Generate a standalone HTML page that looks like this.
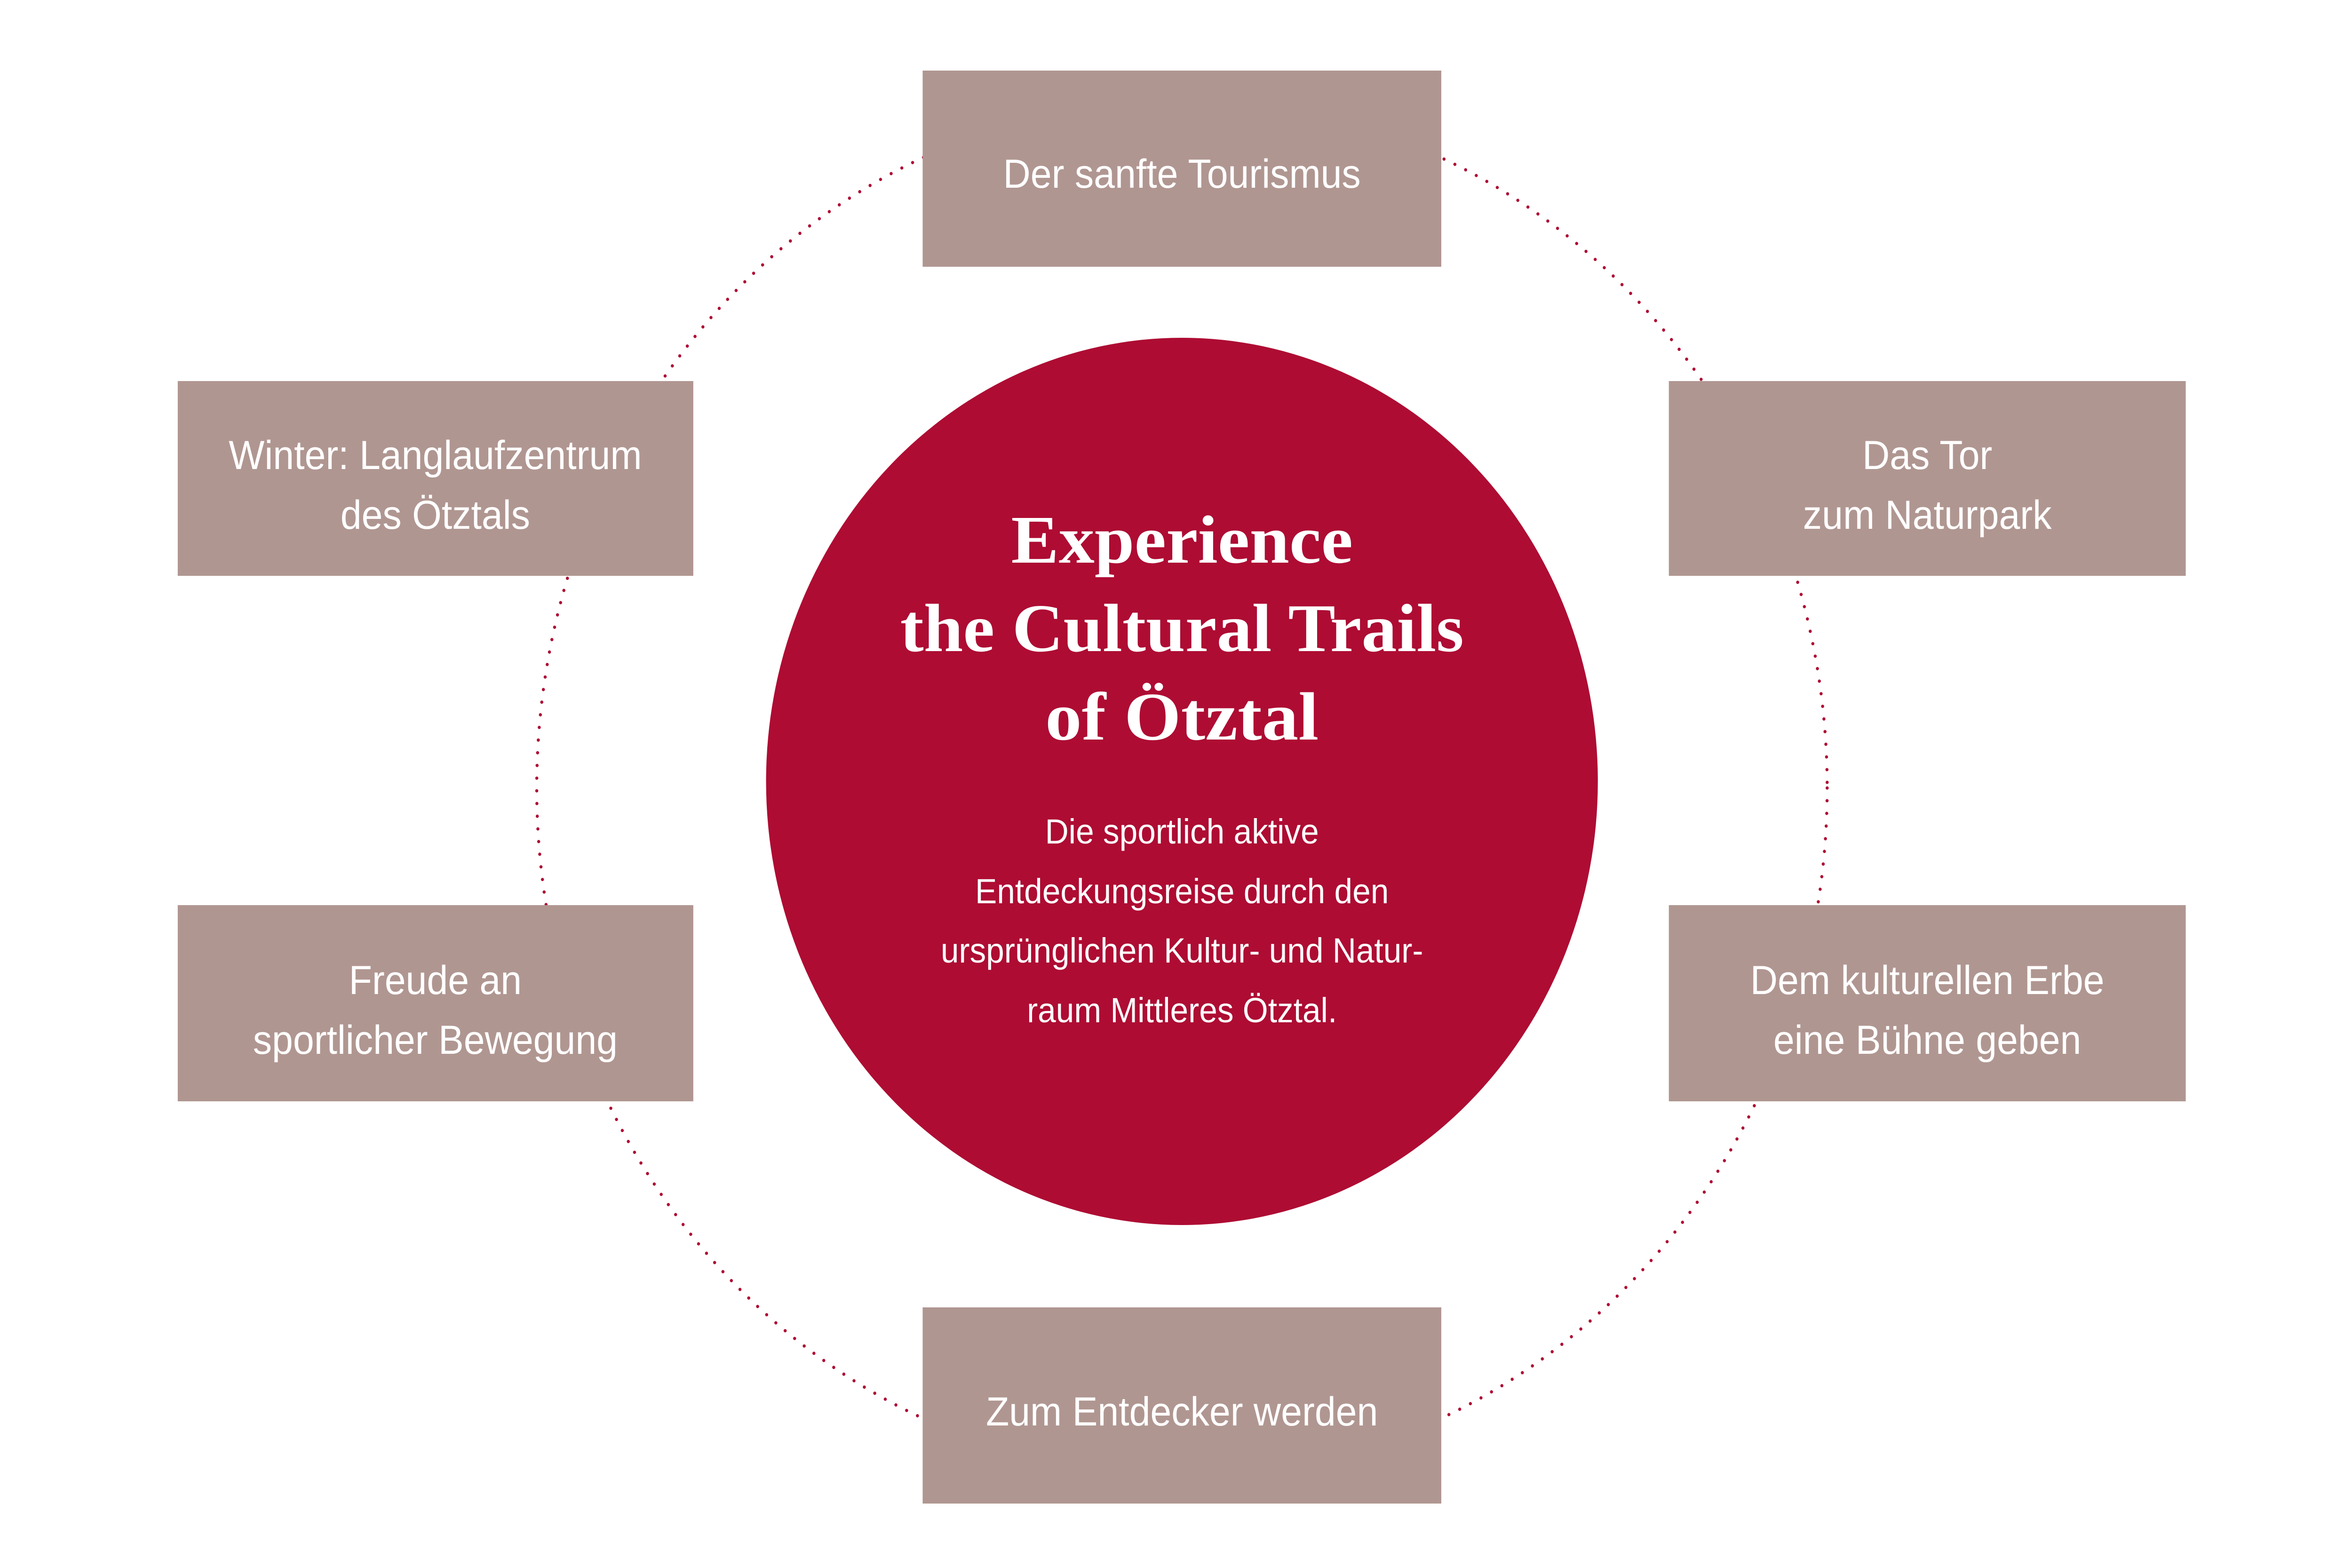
<!DOCTYPE html>
<html><head><meta charset="utf-8"><style>html,body{margin:0;padding:0;background:#fff;overflow:hidden;width:100%;height:100%}svg{display:block;width:100vw;height:100vh}</style></head>
<body>
<svg viewBox="0 0 5333 3333" preserveAspectRatio="none" xmlns="http://www.w3.org/2000/svg">
<rect width="5333" height="3333" fill="#fff"/>
<circle cx="2680" cy="1675" r="1463" fill="none" stroke="#ae0c33" stroke-width="7" stroke-linecap="round" stroke-dasharray="0 27"/>
<circle cx="2680" cy="1661" r="943" fill="#ae0c33"/>
<g fill="#b09691">
<rect x="2092" y="150" width="1176" height="417"/>
<rect x="403" y="810" width="1169" height="414"/>
<rect x="3784" y="810" width="1172" height="414"/>
<rect x="403" y="1924" width="1169" height="417"/>
<rect x="3784" y="1924" width="1172" height="417"/>
<rect x="2092" y="2779" width="1176" height="417"/>
</g>
<g fill="#fff" font-family="Liberation Sans, sans-serif" font-size="86" text-anchor="middle">
<text x="2680" y="399">Der sanfte Tourismus</text>
<text x="987" y="997">Winter: Langlaufzentrum</text>
<text x="987" y="1124">des Ötztals</text>
<text x="4370" y="997">Das Tor</text>
<text x="4370" y="1124">zum Naturpark</text>
<text x="987" y="2113">Freude an</text>
<text x="987" y="2240">sportlicher Bewegung</text>
<text x="4370" y="2113">Dem kulturellen Erbe</text>
<text x="4370" y="2240">eine Bühne geben</text>
<text x="2680" y="3030">Zum Entdecker werden</text>
</g>
<g fill="#fff" font-family="Liberation Serif, serif" font-weight="bold" font-size="145" text-anchor="middle">
<text x="2680" y="1196" textLength="775" lengthAdjust="spacingAndGlyphs">Experience</text>
<text x="2680" y="1384" textLength="1278" lengthAdjust="spacingAndGlyphs">the Cultural Trails</text>
<text x="2680" y="1572" textLength="620" lengthAdjust="spacingAndGlyphs">of Ötztal</text>
</g>
<g fill="#fff" font-family="Liberation Sans, sans-serif" font-size="74" text-anchor="middle">
<text x="2680" y="1793">Die sportlich aktive</text>
<text x="2680" y="1920">Entdeckungsreise durch den</text>
<text x="2680" y="2046">ursprünglichen Kultur- und Natur-</text>
<text x="2680" y="2173">raum Mittleres Ötztal.</text>
</g>
</svg>
</body></html>
